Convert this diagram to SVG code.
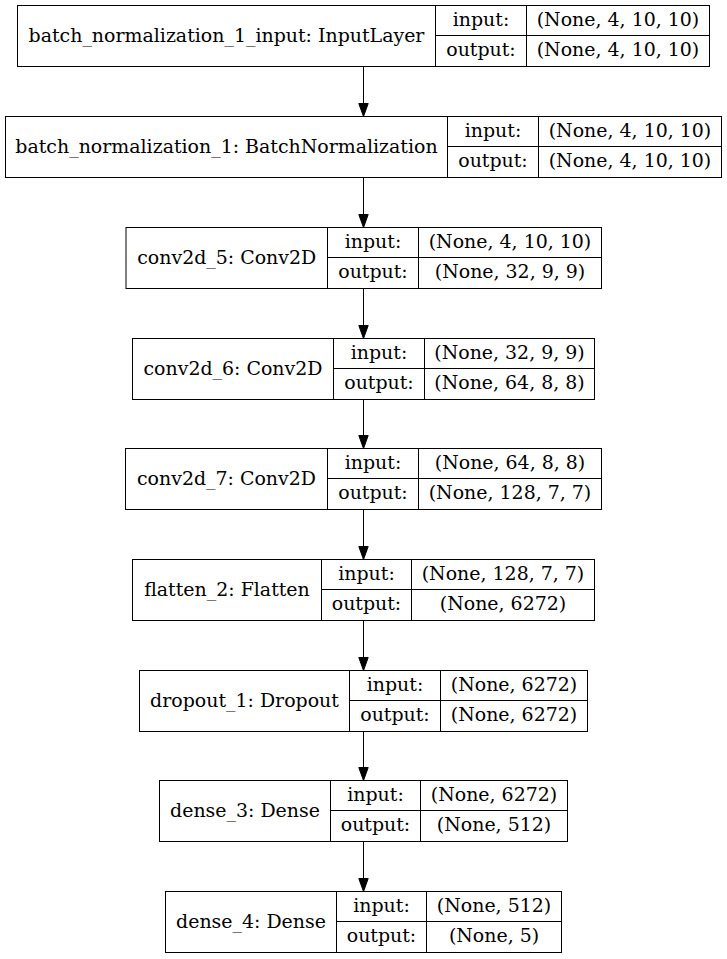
<svg xmlns="http://www.w3.org/2000/svg" width="727" height="959" viewBox="0 0 727 959">
<style>
.b{fill:#fff;stroke:#000;stroke-width:1}
.l{stroke:#000;stroke-width:1;fill:none}
text{font-family:"DejaVu Serif","Liberation Serif",serif;font-size:18.95px;fill:#000;text-anchor:middle}
.e{stroke:#000;stroke-width:1;fill:none}
.a{fill:#000;stroke:#000;stroke-width:1}
</style>
<rect width="727" height="959" fill="#fff"/>
<g id="connectors">
<line class="e" x1="363.5" y1="66.5" x2="363.5" y2="103.5"/><polygon class="a" points="358.8,103.5 368.2,103.5 363.5,116.5"/>
<line class="e" x1="363.5" y1="177.5" x2="363.5" y2="214.5"/><polygon class="a" points="358.8,214.5 368.2,214.5 363.5,227.5"/>
<line class="e" x1="363.5" y1="288.5" x2="363.5" y2="325.5"/><polygon class="a" points="358.8,325.5 368.2,325.5 363.5,338.5"/>
<line class="e" x1="363.5" y1="399.5" x2="363.5" y2="435.5"/><polygon class="a" points="358.8,435.5 368.2,435.5 363.5,448.5"/>
<line class="e" x1="363.5" y1="509.5" x2="363.5" y2="546.5"/><polygon class="a" points="358.8,546.5 368.2,546.5 363.5,559.5"/>
<line class="e" x1="363.5" y1="620.5" x2="363.5" y2="657.5"/><polygon class="a" points="358.8,657.5 368.2,657.5 363.5,670.5"/>
<line class="e" x1="363.5" y1="731.5" x2="363.5" y2="767.5"/><polygon class="a" points="358.8,767.5 368.2,767.5 363.5,780.5"/>
<line class="e" x1="363.5" y1="841.5" x2="363.5" y2="878.5"/><polygon class="a" points="358.8,878.5 368.2,878.5 363.5,891.5"/>
</g>
<g id="node1">
<rect class="b" x="17.5" y="5.5" width="692" height="61"/>
<path class="l" d="M435.5 5.5V66.5M526.5 5.5V66.5M435.5 35.5H709.5"/>
<text x="226.5" y="41.8">batch_normalization_1_input: InputLayer</text>
<text x="481" y="25.5">input:</text><text x="481" y="56">output:</text>
<text x="618" y="25.5">(None, 4, 10, 10)</text><text x="618" y="56">(None, 4, 10, 10)</text>
</g>
<g id="node2">
<rect class="b" x="5.5" y="116.5" width="716" height="61"/>
<path class="l" d="M447.5 116.5V177.5M538.5 116.5V177.5M447.5 146.5H721.5"/>
<text x="226.5" y="152.8">batch_normalization_1: BatchNormalization</text>
<text x="493" y="136.5">input:</text><text x="493" y="167">output:</text>
<text x="630" y="136.5">(None, 4, 10, 10)</text><text x="630" y="167">(None, 4, 10, 10)</text>
</g>
<g id="node3">
<rect class="b" x="126" y="227.5" width="475.5" height="61"/>
<path class="l" d="M327.5 227.5V288.5M418.5 227.5V288.5M327.5 257.5H601.5"/>
<text x="226.75" y="263.8">conv2d_5: Conv2D</text>
<text x="373" y="247.5">input:</text><text x="373" y="278">output:</text>
<text x="510" y="247.5">(None, 4, 10, 10)</text><text x="510" y="278">(None, 32, 9, 9)</text>
</g>
<g id="node4">
<rect class="b" x="132.5" y="338.5" width="462" height="61"/>
<path class="l" d="M333.5 338.5V399.5M424.5 338.5V399.5M333.5 368.5H594.5"/>
<text x="233" y="374.8">conv2d_6: Conv2D</text>
<text x="379" y="358.5">input:</text><text x="379" y="389">output:</text>
<text x="509.5" y="358.5">(None, 32, 9, 9)</text><text x="509.5" y="389">(None, 64, 8, 8)</text>
</g>
<g id="node5">
<rect class="b" x="125.5" y="448.5" width="476" height="61"/>
<path class="l" d="M327.5 448.5V509.5M418.5 448.5V509.5M327.5 478.5H601.5"/>
<text x="226.5" y="484.8">conv2d_7: Conv2D</text>
<text x="373" y="468.5">input:</text><text x="373" y="499">output:</text>
<text x="510" y="468.5">(None, 64, 8, 8)</text><text x="510" y="499">(None, 128, 7, 7)</text>
</g>
<g id="node6">
<rect class="b" x="132.5" y="559.5" width="462" height="61"/>
<path class="l" d="M321.5 559.5V620.5M411.5 559.5V620.5M321.5 589.5H594.5"/>
<text x="227" y="595.8">flatten_2: Flatten</text>
<text x="366.5" y="579.5">input:</text><text x="366.5" y="610">output:</text>
<text x="503" y="579.5">(None, 128, 7, 7)</text><text x="503" y="610">(None, 6272)</text>
</g>
<g id="node7">
<rect class="b" x="139.5" y="670.5" width="448" height="61"/>
<path class="l" d="M349.5 670.5V731.5M440.5 670.5V731.5M349.5 700.5H587.5"/>
<text x="244.5" y="706.8">dropout_1: Dropout</text>
<text x="395" y="690.5">input:</text><text x="395" y="721">output:</text>
<text x="514" y="690.5">(None, 6272)</text><text x="514" y="721">(None, 6272)</text>
</g>
<g id="node8">
<rect class="b" x="159.5" y="780.5" width="408" height="61"/>
<path class="l" d="M330.5 780.5V841.5M420.5 780.5V841.5M330.5 810.5H567.5"/>
<text x="245" y="816.8">dense_3: Dense</text>
<text x="375.5" y="800.5">input:</text><text x="375.5" y="831">output:</text>
<text x="494" y="800.5">(None, 6272)</text><text x="494" y="831">(None, 512)</text>
</g>
<g id="node9">
<rect class="b" x="165.5" y="891.5" width="396" height="61"/>
<path class="l" d="M336.5 891.5V952.5M426.5 891.5V952.5M336.5 921.5H561.5"/>
<text x="251" y="927.8">dense_4: Dense</text>
<text x="381.5" y="911.5">input:</text><text x="381.5" y="942">output:</text>
<text x="494" y="911.5">(None, 512)</text><text x="494" y="942">(None, 5)</text>
</g>
</svg>
